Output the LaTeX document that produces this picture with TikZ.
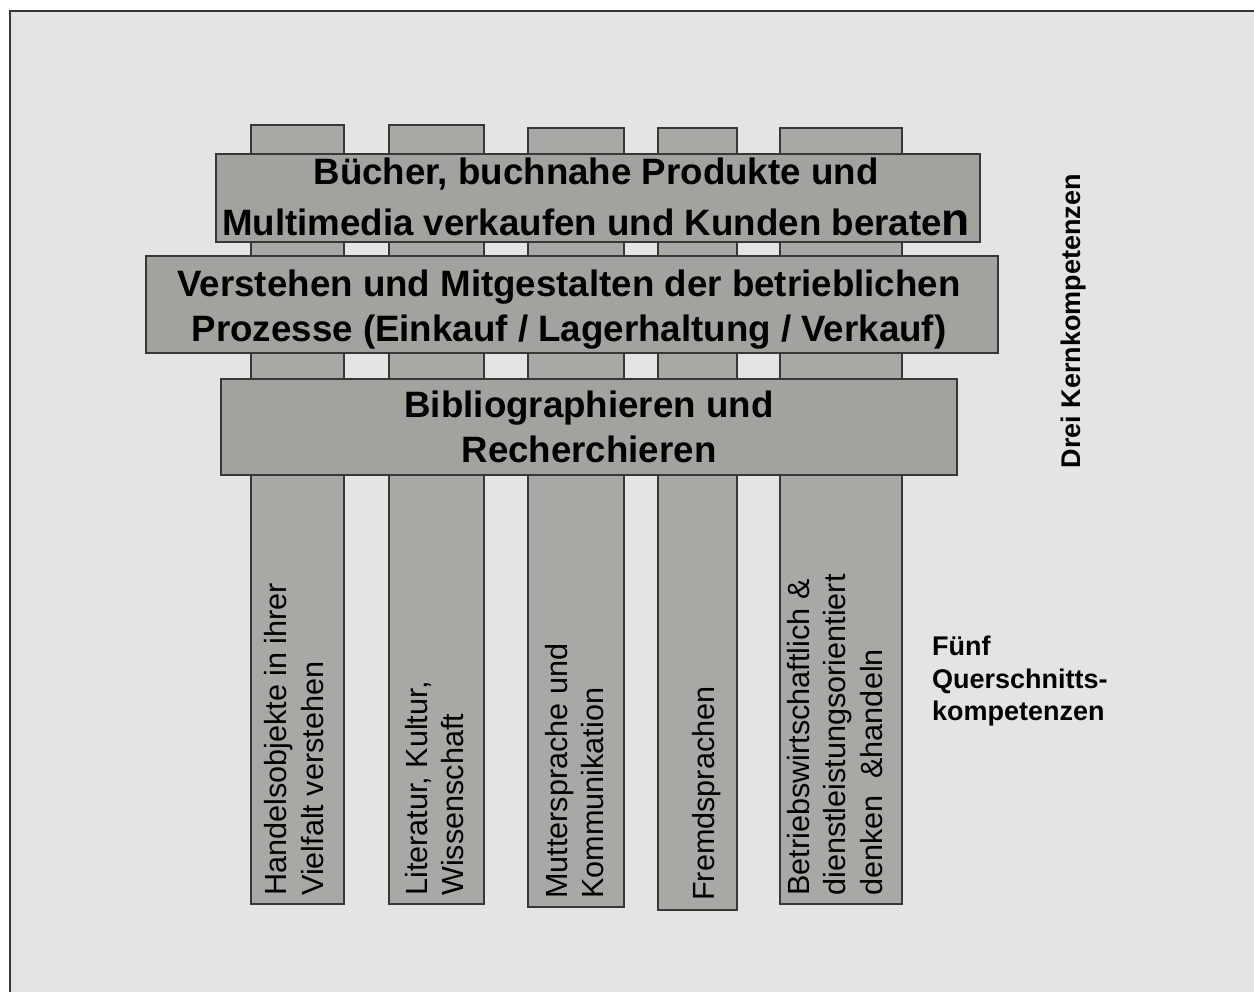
\documentclass[tikz,border=0pt]{standalone}
\usepackage{fontspec}
\setmainfont{Liberation Sans}
\definecolor{bg}{RGB}{228,228,228}
\definecolor{colfill}{RGB}{170,168,164}
\definecolor{bandfill}{RGB}{164,162,158}
\definecolor{edge}{RGB}{55,55,55}
\begin{document}
\begin{tikzpicture}[x=1pt,y=-1pt,
  pillar/.style={draw=edge, fill=colfill, line width=1.3pt},
  band/.style={draw=edge, fill=bandfill, line width=1.3pt},
  bandtext/.style={align=center, inner sep=0pt, font=\fontsize{36.7}{45}\selectfont\bfseries},
  coltext/.style={rotate=90, anchor=west, align=left, inner sep=0pt, font=\fontsize{30.6}{36.5}\selectfont},
  sidetext/.style={inner sep=0pt, font=\fontsize{27}{32.5}\selectfont\bfseries}]
\useasboundingbox (0,0) rectangle (1254,992);
% frame
\fill[white] (0,0) rectangle (1254,992);
\fill[bg] (10,11) rectangle (1254,992);
\draw[edge, line width=1.5pt] (10,992) -- (10,11) -- (1254,11);
% pillars
\path[pillar] (251,125) rectangle (344,904);
\path[pillar] (389,125) rectangle (484,904);
\path[pillar] (528,128) rectangle (624,907);
\path[pillar] (658,128) rectangle (737,910);
\path[pillar] (780,128) rectangle (902,904);
% bands
\path[band] (216,154) rectangle (980,242);
\path[band] (146,256) rectangle (998,353);
\path[band] (221,379) rectangle (957,475);
\node[bandtext, font=\fontsize{36.7}{51}\selectfont\bfseries] (b1) at (596,197)
  {Bücher, buchnahe Produkte und\\Multimedia verkaufen und Kunden berate{\fontsize{46}{51}\selectfont n}};
\node[bandtext] (b2) at (569,310)
  {Verstehen und Mitgestalten der betrieblichen\\Prozesse (Einkauf / Lagerhaltung / Verkauf)};
\node[bandtext, font=\fontsize{36.7}{45}\selectfont\bfseries] (b3) at (589,427.3)
  {Bibliographieren und\\Recherchieren};
% pillar texts
\node[coltext] (c1) at (294,896) {Handelsobjekte in ihrer\\Vielfalt verstehen};
\node[coltext] (c2) at (434.5,896) {Literatur, Kultur,\\Wissenschaft};
\node[coltext] (c3) at (574.5,899) {Muttersprache und\\Kommunikation};
\node[coltext] (c4) at (706.5,901) {Fremdsprachen};
\node[coltext] (c5) at (835,896) {Betriebswirtschaftlich \&\\dienstleistungsorientiert\\denken \ \&handeln};
% side labels
\node[sidetext, rotate=90, anchor=base] (drei) at (1080,321) {Drei Kernkompetenzen};
\node[sidetext, align=left, anchor=north west] (fuenf) at (932,636)
  {Fünf\\Querschnitts-\\kompetenzen};
\end{tikzpicture}
\end{document}
